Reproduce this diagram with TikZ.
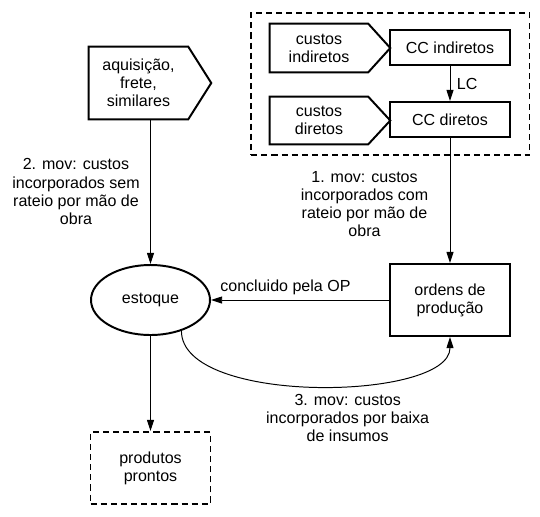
\documentclass[tikz,border=0pt]{standalone}
\usepackage{fontspec}
\setmainfont{Liberation Sans}
\usepackage{tikz}
\usetikzlibrary{shapes.geometric,arrows.meta,positioning,calc,fit}
\newlength{\pxu}
\setlength{\pxu}{0.025cm}

\begin{document}
\begin{tikzpicture}[x=0.025cm, y=-0.025cm, >={Triangle[length=8pt,width=5pt]},
    every node/.style={font=\fontsize{11.4}{12.9}\selectfont, align=center},
    box/.style={draw, line width=1.4pt, inner sep=0pt, minimum width=120\pxu, minimum height=#1\pxu},
    box/.default=72,
    dashbox/.style={draw, line width=1.4pt, dash pattern=on 4.3pt off 2.9pt, inner sep=0pt},
    pentbody/.style={inner sep=0pt, minimum width=98\pxu, minimum height=#1\pxu},
    outline/.style={line width=1.4pt},
    flow/.style={->, line width=0.7pt}]
    \useasboundingbox (0,0) rectangle (540,516);

    % entradas
    \node[pentbody=72, minimum width=99\pxu] (aq) at (138.5,83) {aquisição,\\frete,\\similares};
    \node[pentbody=48] (ci) at (319,48) {custos\\indiretos};
    \node[pentbody=47] (cd) at (319,120.5) {custos\\diretos};
    \draw[outline] (aq.north west) -- (aq.north east) -- ($(aq.east)+(23,0)$) -- (aq.south east) -- (aq.south west) -- cycle;
    \draw[outline] (ci.north west) -- (ci.north east) -- ($(ci.east)+(22,0)$) -- (ci.south east) -- (ci.south west) -- cycle;
    \draw[outline] (cd.north west) -- (cd.north east) -- ($(cd.east)+(22,0)$) -- (cd.south east) -- (cd.south west) -- cycle;

    % centros de custo
    \node[box=35] (cci) at (450,47.5) {CC indiretos};
    \node[box=35] (ccd) at (450,119.5) {CC diretos};
    \node[dashbox, fit=(ci) (cci) (cd) (ccd), inner xsep=18.5\pxu, inner ysep=11\pxu] (grupo) {};

    \node[box] (ordens) at (450,300) {ordens de\\produção};
    \node[draw, ellipse, line width=1.4pt, inner sep=0pt, minimum width=119\pxu, minimum height=70\pxu] (estoque) at (150.5,300) {estoque};
    \node[dashbox, minimum width=120\pxu, minimum height=72\pxu] (produtos) at (150.5,468) {produtos\\prontos};

    \draw[flow] (cci) -- (ccd) node[midway, right=1.2pt] {LC};
    \draw[flow] (ccd) -- (ordens) node[pos=0.53, left=11.8pt] {1. mov: custos\\incorporados com\\rateio por mão de\\obra};
    \draw[flow] (aq.south -| estoque.north) -- (estoque.north) node[midway, left=4pt] {2. mov: custos\\incorporados sem\\rateio por mão de\\obra};
    \draw[flow] (ordens) -- (estoque) node[pos=1, anchor=south west, xshift=3pt] {concluido pela OP};
    \draw[flow] (estoque) -- (produtos);
    \draw[flow] (estoque.-45) .. controls +(0,75) and +(0,64) .. (ordens.south)
        node[pos=0.58, below=3pt] {3. mov: custos\\incorporados por baixa\\de insumos};
\end{tikzpicture}
\end{document}
